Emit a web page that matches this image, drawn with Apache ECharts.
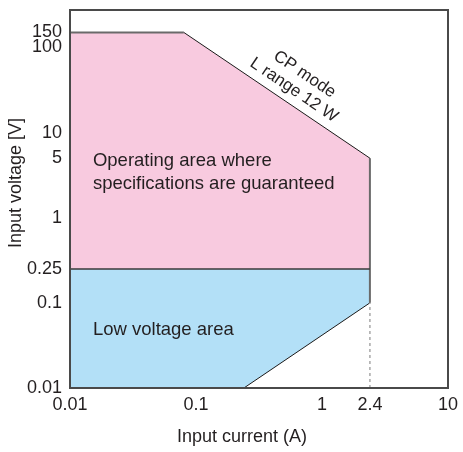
<!DOCTYPE html>
<html>
<head>
<meta charset="utf-8">
<script src="https://cdn.jsdelivr.net/npm/echarts@6/dist/echarts.min.js"></script>
<style>html,body{margin:0;padding:0;background:#fff}#c{width:463px;height:452px}</style>
</head>
<body>
<div id="c"></div>
<script>
// ---- data ----
const xTicks = [0.01, 0.1, 1, 2.4, 10];
const yTicks = [0.01, 0.1, 0.25, 1, 5, 10, 100];
const yTicksTop = [150];
const xRange = [0.01, 10];
const yRange = [0.01, 275];
// operating area (pink) polygon vertices
const pinkX = [0.01, 0.01, 0.08, 2.4, 2.4];
const pinkY = [0.25, 150, 150, 5, 0.25];
// low voltage area (blue) polygon vertices
const blueX = [0.01, 0.01, 2.4, 2.4, 0.24];
const blueY = [0.01, 0.25, 0.25, 0.1, 0.01];
// CP mode 12 W boundary (V = 12 / I)
const cpX = [0.08, 2.4];
const cpY = [150, 5];
// low-voltage diagonal boundary
const lowX = [0.24, 2.4];
const lowY = [0.01, 0.1];
// dashed reference at 2.4 A
const dashX = [2.4, 2.4];
const dashY = [0.01, 0.1];
// grey outline of pink/blue area
const edgeTopX = [0.01, 0.08];
const edgeTopY = [150, 150];
const edgeRightX = [2.4, 2.4];
const edgeRightY = [5, 0.1];
const midX = [0.01, 2.4];
const midY = [0.25, 0.25];
// annotations
const opText = 'Operating area where\nspecifications are guaranteed';
const opPos = [0.0152, 3.4];
const lowText = 'Low voltage area';
const lowPos = [0.0152, 0.048];
const cpText = 'CP mode\nL range 12 W';
const cpPos = [0.66, 39];

const zip = (a, b) => a.map((v, i) => [v, b[i]]);
const FONT = '"Liberation Sans", Arial, Helvetica, sans-serif';
const TXT = '#231f20';
const fmt = v => String(+(+v).toPrecision(3));

function polySeries(xs, ys, color) {
  return {
    type: 'custom',
    silent: true,
    data: [0],
    renderItem: function (params, api) {
      const pts = xs.map((x, i) => api.coord([x, ys[i]]));
      return { type: 'polygon', shape: { points: pts }, style: { fill: color, stroke: 'none' } };
    },
    z: 1
  };
}
function lineSeries(xs, ys, color, width, type, z) {
  return {
    type: 'line', data: zip(xs, ys), symbol: 'none', silent: true,
    lineStyle: { color: color, width: width, type: type || 'solid' }, z: z || 3,
    animation: false
  };
}
function yAxisDef(ticks, withName) {
  const ax = {
    type: 'log', logBase: 10, min: yRange[0], max: yRange[1], position: 'left',
    axisLine: { show: false }, axisTick: { show: false }, splitLine: { show: false }, minorTick: { show: false },
    axisLabel: {
      customValues: ticks, hideOverlap: false, showMinLabel: true, showMaxLabel: true,
      fontFamily: FONT, fontSize: 18, color: TXT, margin: 8, formatter: fmt
    }
  };
  if (withName) {
    Object.assign(ax, {
      name: 'Input voltage [V]', nameLocation: 'middle', nameGap: 45, nameMoveOverlap: false,
      nameTextStyle: { fontFamily: FONT, fontSize: 18, color: TXT, padding: [0, 0, 0, 32] }
    });
  }
  return ax;
}

const chart = echarts.init(document.getElementById('c'), null, { renderer: 'canvas' });
chart.setOption({
  animation: false,
  backgroundColor: '#fff',
  grid: { left: 70, top: 10, width: 378, height: 378, containLabel: false, outerBoundsMode: 'none', show: true, borderColor: '#4a4a4a', borderWidth: 2, backgroundColor: 'transparent', z: 10 },
  xAxis: {
    type: 'log', logBase: 10, min: xRange[0], max: xRange[1],
    name: 'Input current (A)', nameLocation: 'middle', nameGap: 40, nameMoveOverlap: false,
    nameTextStyle: { fontFamily: FONT, fontSize: 18, color: TXT, padding: [0, 34, 0, 0] },
    axisLine: { show: false }, axisTick: { show: false }, splitLine: { show: false }, minorTick: { show: false },
    axisLabel: {
      customValues: xTicks, hideOverlap: false, showMinLabel: true, showMaxLabel: true,
      fontFamily: FONT, fontSize: 18, color: TXT, margin: 8, formatter: fmt
    }
  },
  yAxis: [yAxisDef(yTicks, true), yAxisDef(yTicksTop, false)],
  series: [
    polySeries(pinkX, pinkY, '#f8cadf'),
    polySeries(blueX, blueY, '#b3e0f7'),
    lineSeries(edgeTopX, edgeTopY, '#6a6a6a', 2, 'solid', 4),
    lineSeries(edgeRightX, edgeRightY, '#6a6a6a', 2, 'solid', 4),
    lineSeries(midX, midY, '#3a3a3a', 1.5, 'solid', 4),
    lineSeries(cpX, cpY, '#1a1a1a', 1, 'solid', 4),
    lineSeries(lowX, lowY, '#1a1a1a', 1, 'solid', 4),
    lineSeries(dashX, dashY, '#a8a8a8', 1.5, [3, 3], 4),
    {
      type: 'custom', silent: true, data: [0], z: 5,
      renderItem: function (params, api) {
        const a = api.coord([cpX[0], cpY[0]]);
        const b = api.coord([cpX[1], cpY[1]]);
        const ang = Math.atan2(b[1] - a[1], b[0] - a[0]);
        const op = api.coord(opPos);
        const lw = api.coord(lowPos);
        const cp = api.coord(cpPos);
        return {
          type: 'group',
          children: [
            { type: 'text', x: op[0], y: op[1], style: { text: opText, fill: TXT, font: '18.5px ' + FONT, align: 'left', verticalAlign: 'middle', lineHeight: 23 } },
            { type: 'text', x: lw[0], y: lw[1], style: { text: lowText, fill: TXT, font: '18.5px ' + FONT, align: 'left', verticalAlign: 'middle' } },
            { type: 'text', x: cp[0], y: cp[1], rotation: -ang, style: { text: cpText, fill: TXT, font: '17px ' + FONT, align: 'center', verticalAlign: 'middle', lineHeight: 19 } }
          ]
        };
      }
    }
  ]
});
</script>
</body>
</html>
